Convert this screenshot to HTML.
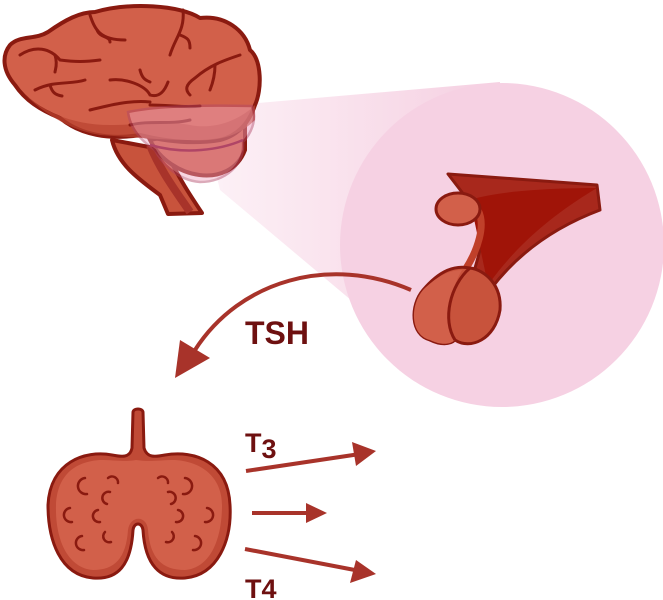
<!DOCTYPE html>
<html><head><style>html,body{margin:0;padding:0;background:#fff}svg{display:block}</style></head>
<body>
<svg width="663" height="600" viewBox="0 0 663 600" xmlns="http://www.w3.org/2000/svg">
<defs>
<linearGradient id="cone" x1="0" y1="0" x2="1" y2="0">
<stop offset="0" stop-color="#f7d3e4" stop-opacity="0.3"/>
<stop offset="1" stop-color="#f5cfe1"/>
</linearGradient>
</defs>
<polygon points="200,108 500,82 470,400 220,190" fill="url(#cone)"/>
<circle cx="502" cy="245" r="162" fill="#f6d1e3"/>
<path d="M112,140 C118,165 140,180 160,195 L168,214 L202,213 C190,195 180,180 165,150 Z" fill="#c8533c" stroke="#8a1a10" stroke-width="4" stroke-linejoin="round"/>
<path d="M150,145 C160,170 175,190 190,212" stroke="#a8332a" stroke-width="8" fill="none"/>
<path d="M150,140 C170,180 230,190 245,150 L245,120 Z" fill="#c8533c" stroke="#8a1a10" stroke-width="4"/>
<path d="M10,45 C20,35 35,40 48,32 C65,20 80,12 95,12 C130,2 180,5 200,18 C225,15 245,30 250,50 C262,60 262,90 255,105 C250,120 240,135 220,140 C190,145 160,140 140,135 C110,140 80,135 60,118 C40,110 25,100 15,85 C2,70 2,55 10,45 Z" fill="#d2604a" stroke="#8a1a10" stroke-width="4" stroke-linejoin="round"/>
<path d="M20,90 C40,110 70,125 110,125 C140,125 160,120 190,125 C215,130 240,120 255,105 L255,120 C240,135 220,142 190,140 C160,140 130,137 100,135 C70,130 45,115 20,90Z" fill="#b8432f" opacity="0.7"/>
<g fill="none" stroke="#8a1a10" stroke-width="3" stroke-linecap="round">
<path d="M90,15 C95,30 100,40 125,40"/><path d="M97,30 C100,38 110,36 110,42"/>
<path d="M183,10 C185,30 175,38 170,55"/><path d="M180,35 C188,38 190,40 190,48"/>
<path d="M20,55 C35,45 50,48 60,60 C75,62 85,62 100,60"/><path d="M55,55 C58,65 55,70 55,72"/>
<path d="M35,90 C55,80 70,85 85,80"/><path d="M50,85 C52,92 55,95 62,96"/>
<path d="M110,80 C125,78 145,85 150,95 C160,98 165,90 168,82"/><path d="M140,70 C142,78 145,80 150,82"/>
<path d="M240,55 C225,60 210,65 195,78 C185,85 185,90 190,95"/><path d="M215,65 C215,75 212,85 210,90"/>
<path d="M90,110 C110,105 130,100 150,102"/><path d="M150,105 C170,105 185,108 200,106"/>
<path d="M130,125 C150,120 170,125 190,120"/>
</g>
<path d="M128,112 C160,105 210,105 252,106 C258,120 250,135 243,142 C245,165 225,182 200,182 C175,180 160,160 155,150 C140,140 130,128 128,112Z" fill="#f0a5c0" opacity="0.45" stroke="#b04566" stroke-width="2.5"/>
<path d="M150,145 C185,155 220,150 243,140" fill="none" stroke="#b04566" stroke-width="2.5"/>
<path d="M448,174 L597,185 L600,210 C560,225 520,250 490,290 L470,285 C480,250 490,225 478,213 Z" fill="#a8281c" stroke="#8a1a10" stroke-width="3" stroke-linejoin="round"/>
<path d="M470,200 C500,190 560,188 597,188 C560,210 520,240 488,285 Z" fill="#a01408"/>
<path d="M468,200 L478,210 C486,225 478,250 465,270" fill="none" stroke="#c0402a" stroke-width="7"/>
<ellipse cx="458" cy="209" rx="22" ry="16" fill="#d2604a" stroke="#8a1a10" stroke-width="3"/>
<path d="M423,290 C410,305 410,335 430,340 C440,345 450,345 455,340 C470,350 495,340 500,310 C502,285 485,270 470,268 C455,265 440,270 423,290Z" fill="#c8533c" stroke="#8a1a10" stroke-width="3"/>
<path d="M423,290 C410,305 410,335 430,340 C440,345 450,345 455,340 C445,320 450,290 462,270 C448,270 435,278 423,290Z" fill="#d2604a"/>
<path d="M470,268 C450,285 442,320 455,340" fill="none" stroke="#8a1a10" stroke-width="3"/>
<path d="M411,290 C330,255 240,280 195,350" fill="none" stroke="#a8332a" stroke-width="4"/>
<polygon points="175,378 180,340 210,358" fill="#a8332a"/>
<text x="245" y="344" font-family="Liberation Sans, sans-serif" font-weight="bold" font-size="32" fill="#6e1010">TSH</text>
<path d="M133,412 C134,408 142,408 143,412 L144,448 C147,458 155,457 165,455 C195,450 228,462 230,505 C232,540 218,575 185,578 C160,580 145,565 143,530 C142,522 134,522 133,530 C131,565 118,580 93,578 C60,575 48,540 48,505 C50,462 85,450 112,455 C122,457 130,458 132,448 Z" fill="#c04a36" stroke="#8a1a10" stroke-width="3"/>
<path d="M136,460 C150,462 160,460 175,460 C205,462 222,480 222,505 C222,540 210,568 185,570 C162,570 150,558 148,530 C147,515 130,515 128,530 C126,558 115,570 93,570 C68,568 55,540 56,505 C57,480 70,462 100,460 C115,460 125,462 136,460Z" fill="#d2604a"/>
<g fill="none" stroke="#8a1a10" stroke-width="2.5" stroke-linecap="round">
<path d="M85,478 a7,7 0 1,0 2,16"/><path d="M108,478 a6,6 0 0,1 10,5"/><path d="M110,492 a6,6 0 0,0 -3,12"/>
<path d="M70,508 a7,7 0 1,0 2,14"/><path d="M98,510 a6,6 0 1,0 2,12"/>
<path d="M82,536 a7,7 0 1,0 2,14"/><path d="M105,532 a6,6 0 0,0 6,10"/>
<path d="M158,478 a6,6 0 0,1 10,5"/><path d="M185,478 a7,7 0 1,1 -2,16"/><path d="M168,492 a6,6 0 0,1 3,12"/>
<path d="M207,508 a7,7 0 1,1 -2,14"/><path d="M178,510 a6,6 0 1,1 -2,12"/>
<path d="M195,536 a7,7 0 1,1 -2,14"/><path d="M172,532 a6,6 0 0,1 -6,10"/>
</g>
<g stroke="#a8332a" stroke-width="4">
<line x1="246" y1="471" x2="360" y2="454"/>
<line x1="252" y1="513" x2="312" y2="513"/>
<line x1="245" y1="549" x2="360" y2="571"/>
</g>
<g fill="#a8332a">
<polygon points="376,451 352,442 356,466"/>
<polygon points="327,513 306,503 306,523"/>
<polygon points="376,574 356,560 350,583"/>
</g>
<text x="245" y="452" font-family="Liberation Sans, sans-serif" font-weight="bold" font-size="27" fill="#6e1010">T<tspan dy="6">3</tspan></text>
<text x="245" y="598" font-family="Liberation Sans, sans-serif" font-weight="bold" font-size="27" fill="#6e1010">T4</text>
</svg>
</body></html>
